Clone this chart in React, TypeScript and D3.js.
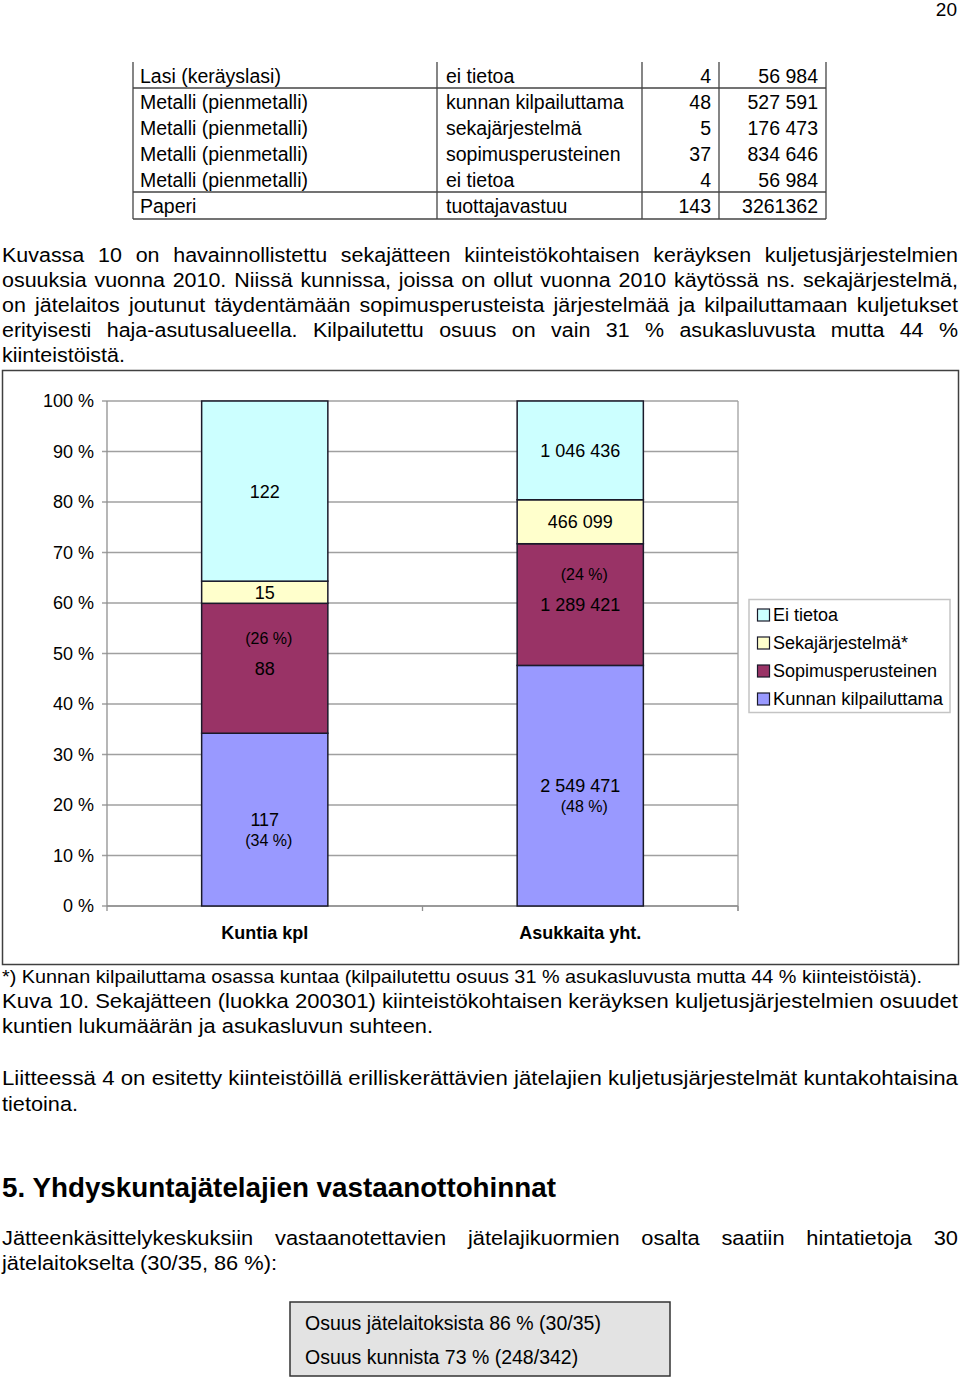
import * as d3 from 'd3';
import React from 'react';

const FONT = '"Liberation Sans", Arial, Helvetica, sans-serif';

// table rows carried over from the previous page
const tableWaste = [
  'Lasi (keräyslasi)',
  'Metalli (pienmetalli)',
  'Metalli (pienmetalli)',
  'Metalli (pienmetalli)',
  'Metalli (pienmetalli)',
  'Paperi',
];
const tableSystem = [
  'ei tietoa',
  'kunnan kilpailuttama',
  'sekajärjestelmä',
  'sopimusperusteinen',
  'ei tietoa',
  'tuottajavastuu',
];
const tableCount = ['4', '48', '5', '37', '4', '143'];
const tablePop = ['56 984', '527 591', '176 473', '834 646', '56 984', '3261362'];

// chart data
const categories = ['Kuntia kpl', 'Asukkaita yht.'];
const seriesNames = ['Kunnan kilpailuttama', 'Sopimusperusteinen', 'Sekajärjestelmä*', 'Ei tietoa'];
const kunnanKilpailuttama = [117, 2549471];
const sopimusperusteinen = [88, 1289421];
const sekajarjestelma = [15, 466099];
const eiTietoa = [122, 1046436];
const seriesColors = ['#9999ff', '#993366', '#ffffcc', '#ccffff'];
const yTickValues = [0, 0.1, 0.2, 0.3, 0.4, 0.5, 0.6, 0.7, 0.8, 0.9, 1];

const para1 = [
  'Kuvassa 10 on havainnollistettu sekajätteen kiinteistökohtaisen keräyksen kuljetusjärjestelmien',
  'osuuksia vuonna 2010. Niissä kunnissa, joissa on ollut vuonna 2010 käytössä ns. sekajärjestelmä,',
  'on jätelaitos joutunut täydentämään sopimusperusteista järjestelmää ja kilpailuttamaan kuljetukset',
  'erityisesti haja-asutusalueella. Kilpailutettu osuus on vain 31 % asukasluvusta mutta 44 %',
];
const para1Last = 'kiinteistöistä.';
const footnote = '*) Kunnan kilpailuttama osassa kuntaa (kilpailutettu osuus 31 % asukasluvusta mutta 44 % kiinteistöistä).';
const caption1 = 'Kuva 10. Sekajätteen (luokka 200301) kiinteistökohtaisen keräyksen kuljetusjärjestelmien osuudet';
const caption2 = 'kuntien lukumäärän ja asukasluvun suhteen.';
const para2 = 'Liitteessä 4 on esitetty kiinteistöillä erilliskerättävien jätelajien kuljetusjärjestelmät kuntakohtaisina';
const para2Last = 'tietoina.';
const heading = '5. Yhdyskuntajätelajien vastaanottohinnat';
const para3 = 'Jätteenkäsittelykeskuksiin vastaanotettavien jätelajikuormien osalta saatiin hintatietoja 30';
const para3Last = 'jätelaitokselta (30/35, 86 %):';
const boxLines = ['Osuus jätelaitoksista 86 % (30/35)', 'Osuus kunnista 73 % (248/342)'];

let ctx: CanvasRenderingContext2D | null = null;
const measure = (s: string, size: number, weight = 'normal') => {
  if (!ctx) ctx = document.createElement('canvas').getContext('2d');
  ctx!.font = `${weight} ${size}px "Liberation Sans", Arial, sans-serif`;
  return ctx!.measureText(s).width;
};

const Justified = ({
  text,
  x0,
  x1,
  y,
  size,
  stretch = 1,
}: {
  text: string;
  x0: number;
  x1: number;
  y: number;
  size: number;
  stretch?: number;
}) => {
  const words = text.split(' ');
  const widths = words.map((w) => measure(w, size) * stretch);
  const total = d3.sum(widths);
  let k = 1;
  let gap = (x1 - x0 - total) / (words.length - 1);
  if (gap < size * 0.22) {
    gap = size * 0.25;
    k = (x1 - x0 - gap * (words.length - 1)) / total;
  }
  let x = x0;
  return (
    <g>
      {words.map((w, i) => {
        const el = (
          <text key={i} x={x} y={y} fontSize={size} textLength={widths[i] * k} lengthAdjust="spacingAndGlyphs">
            {w}
          </text>
        );
        x += widths[i] * k + gap;
        return el;
      })}
    </g>
  );
};

const Fitted = ({ text, x, y, w, size, weight }: { text: string; x: number; y: number; w: number; size: number; weight?: string }) => (
  <text x={x} y={y} fontSize={size} fontWeight={weight} textLength={w} lengthAdjust="spacingAndGlyphs">
    {text}
  </text>
);

const nf = d3.formatLocale({ decimal: ',', thousands: ' ', grouping: [3], currency: ['', ' €'] }).format(',d');

const Chart = () => {
  const left = 107;
  const right = 738;
  const top = 401;
  const bottom = 906;

  const x = d3.scaleBand().domain(categories).range([left, right]).paddingInner(0.6).paddingOuter(0.3);
  const y = d3.scaleLinear().domain([0, 1]).range([bottom, top]);

  const rows = categories.map((c, i) => ({
    category: c,
    [seriesNames[0]]: kunnanKilpailuttama[i],
    [seriesNames[1]]: sopimusperusteinen[i],
    [seriesNames[2]]: sekajarjestelma[i],
    [seriesNames[3]]: eiTietoa[i],
  }));
  const series = d3.stack<any>().keys(seriesNames).offset(d3.stackOffsetExpand)(rows);
  const color = d3.scaleOrdinal<string>().domain(seriesNames).range(seriesColors);

  const legendRows = seriesNames.slice().reverse();

  return (
    <g fontFamily={FONT}>
      <rect x={2.5} y={370.5} width={956} height={594} fill="#fff" stroke="#404040" strokeWidth={1.5} />
      {/* gridlines */}
      {yTickValues.map((t) => (
        <g key={t}>
          <line x1={left - 5} x2={right} y1={y(t)} y2={y(t)} stroke="#a0a0a0" strokeWidth={1.3} />
          <text x={94} y={y(t)} dy="0.36em" textAnchor="end" fontSize={18}>
            {`${Math.round(t * 100)} %`}
          </text>
        </g>
      ))}
      <line x1={left} x2={left} y1={top} y2={bottom} stroke="#909090" strokeWidth={1.3} />
      <line x1={right} x2={right} y1={top} y2={bottom + 5} stroke="#a0a0a0" strokeWidth={1.3} />
      <line x1={left} x2={right} y1={bottom} y2={bottom} stroke="#909090" strokeWidth={1.5} />
      {[left, (left + right) / 2, right].map((t) => (
        <line key={t} x1={t} x2={t} y1={bottom} y2={bottom + 5} stroke="#909090" strokeWidth={1.3} />
      ))}
      {/* bars */}
      {series.map((s) =>
        s.map((d, i) => {
          const cat = categories[i];
          const y0 = y(d[0]);
          const y1 = y(d[1]);
          const cx = x(cat)! + x.bandwidth() / 2;
          const mid = (y0 + y1) / 2;
          const value = (d.data as any)[s.key] as number;
          const pct = `(${Math.round((d[1] - d[0]) * 100)} %)`;
          return (
            <g key={s.key + cat}>
              <rect x={x(cat)} y={y1} width={x.bandwidth()} height={y0 - y1} fill={color(s.key)} stroke="#1a1a2a" strokeWidth={1.5} />
              <text x={cx} y={mid} dy="0.36em" textAnchor="middle" fontSize={18}>
                {nf(value)}
              </text>
              {s.key === seriesNames[1] && (
                <text x={cx + 4} y={mid - 30} dy="0.36em" textAnchor="middle" fontSize={16}>
                  {pct}
                </text>
              )}
              {s.key === seriesNames[0] && (
                <text x={cx + 4} y={mid + 21} dy="0.36em" textAnchor="middle" fontSize={16}>
                  {pct}
                </text>
              )}
            </g>
          );
        })
      )}
      {categories.map((c) => (
        <text key={c} x={x(c)! + x.bandwidth() / 2} y={933} dy="0.36em" textAnchor="middle" fontSize={18} fontWeight="bold">
          {c}
        </text>
      ))}
      {/* legend */}
      <rect x={749} y={599.5} width={201} height={113} fill="#fff" stroke="#c4c4c4" strokeWidth={1.5} />
      {legendRows.map((n, i) => (
        <g key={n} transform={`translate(757,${615 + i * 28})`}>
          <rect x={0.5} y={-6} width={12} height={12} fill={color(n)} stroke="#1a1a2a" strokeWidth={1.2} />
          <text x={16} y={0} dy="0.36em" fontSize={18} textLength={n.length > 18 ? 170 : undefined} lengthAdjust="spacingAndGlyphs">
            {n}
          </text>
        </g>
      ))}
    </g>
  );
};

const App = () => {
  const colX = [133, 437, 642, 719, 826];
  const rowY = [83, 109, 135, 161, 187, 213];
  return (
    <svg width={960} height={1379} style={{ position: 'absolute', left: 0, top: 0, display: 'block' }} fontFamily={FONT}>
      <rect width={960} height={1379} fill="#fff" />
      <text x={957} y={16} textAnchor="end" fontSize={19}>
        20
      </text>

      {/* table */}
      <g fontSize={19.5}>
        {colX.map((cx) => (
          <line key={cx} x1={cx} x2={cx} y1={62} y2={219} stroke="#444" strokeWidth={1.3} />
        ))}
        {[88, 192, 219].map((ly) => (
          <line key={ly} x1={colX[0]} x2={colX[4]} y1={ly} y2={ly} stroke="#444" strokeWidth={1.3} />
        ))}
        {tableWaste.map((w, i) => (
          <g key={i}>
            <text x={140} y={rowY[i]}>{w}</text>
            <text x={446} y={rowY[i]}>{tableSystem[i]}</text>
            <text x={711} y={rowY[i]} textAnchor="end">{tableCount[i]}</text>
            <text x={818} y={rowY[i]} textAnchor="end">{tablePop[i]}</text>
          </g>
        ))}
      </g>

      {/* paragraph */}
      {para1.map((l, i) => (
        <Justified key={i} text={l} x0={2} x1={958} y={262 + i * 25} size={19.5} stretch={1.1} />
      ))}
      <Fitted text={para1Last} x={2} y={362} w={123} size={19.5} />

      <Chart />

      <Fitted text={footnote} x={2} y={983} w={920} size={19} />
      <Fitted text={caption1} x={2} y={1008} w={956} size={20.5} />
      <Fitted text={caption2} x={2} y={1033} w={431} size={20.5} />
      <Fitted text={para2} x={2} y={1085} w={956} size={20.5} />
      <Fitted text={para2Last} x={2} y={1111} w={76} size={20.5} />

      <Fitted text={heading} x={2} y={1197} w={554} size={27} weight="bold" />

      <Justified text={para3} x0={2} x1={958} y={1245} size={20.5} stretch={1.065} />
      <Fitted text={para3Last} x={2} y={1270} w={275} size={20.5} />

      <rect x={290} y={1302} width={380} height={74} fill="#e3e3e3" stroke="#333" strokeWidth={1.5} />
      {boxLines.map((l, i) => (
        <text key={i} x={305} y={1330 + i * 34} fontSize={19.5}>
          {l}
        </text>
      ))}
    </svg>
  );
};

export default App;
